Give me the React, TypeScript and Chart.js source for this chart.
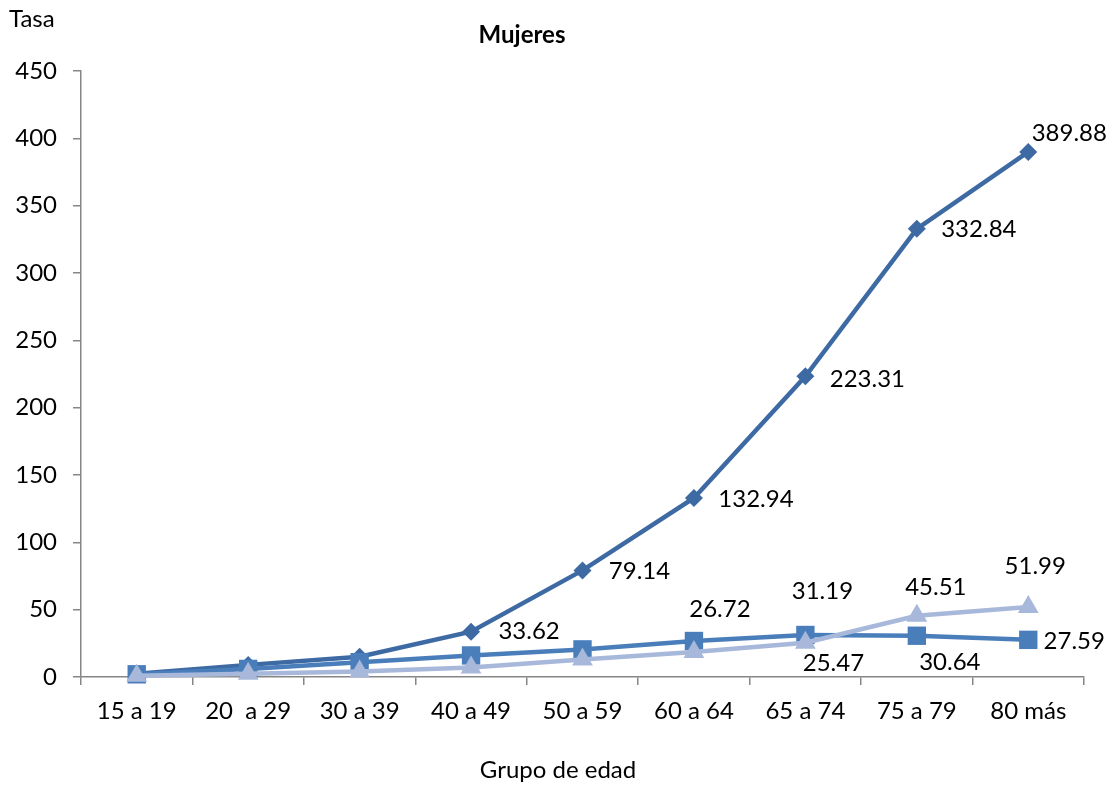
import React, { useEffect, useRef } from "react";
import { Chart, registerables } from "chart.js";

Chart.register(...registerables);

// Age groups along the x axis
const grupos = ["15 a 19", "20  a 29", "30 a 39", "40 a 49", "50 a 59", "60 a 64", "65 a 74", "75 a 79", "80 más"];

// Rates per age group
const serieRombo = [2.5, 9, 15, 33.62, 79.14, 132.94, 223.31, 332.84, 389.88];
const serieCuadro = [2, 6, 11, 16, 20.5, 26.72, 31.19, 30.64, 27.59];
const serieTriangulo = [1, 2.5, 4, 7, 13, 18.5, 25.47, 45.51, 51.99];

// Y axis ticks
const yTicks = [0, 50, 100, 150, 200, 250, 300, 350, 400, 450];

const colorRombo = "#3E6AA4";
const colorCuadro = "#4A7EBB";
const colorTriangulo = "#A7B8DA";

const FONT = "Lato, 'Open Sans', sans-serif";
const TEXT = "#000000";
const AXIS = "#868686";

// Which points carry a value label, and where the label sits relative to the point
const etiquetas = [
  { ds: 0, i: 3, dx: 58, dy: 0 },
  { ds: 0, i: 4, dx: 57, dy: 1 },
  { ds: 0, i: 5, dx: 62, dy: 1 },
  { ds: 0, i: 6, dx: 62, dy: 3 },
  { ds: 0, i: 7, dx: 62, dy: 0 },
  { ds: 0, i: 8, dx: 41, dy: -19 },
  { ds: 1, i: 5, dx: 26, dy: -32 },
  { ds: 1, i: 6, dx: 17, dy: -44 },
  { ds: 1, i: 7, dx: 33, dy: 27 },
  { ds: 1, i: 8, dx: 46, dy: 1 },
  { ds: 2, i: 6, dx: 28, dy: 21 },
  { ds: 2, i: 7, dx: 19, dy: -28 },
  { ds: 2, i: 8, dx: 7, dy: -41 },
];

const textos = {
  id: "textos",
  afterDatasetsDraw(chart: any) {
    const ctx = chart.ctx;
    ctx.save();
    ctx.fillStyle = TEXT;
    ctx.textAlign = "center";
    ctx.textBaseline = "middle";
    ctx.font = `24px ${FONT}`;
    for (const e of etiquetas) {
      const pt = chart.getDatasetMeta(e.ds).data[e.i];
      const v = chart.data.datasets[e.ds].data[e.i] as number;
      ctx.fillText(v.toFixed(2), pt.x + e.dx, pt.y + e.dy);
    }
    // Axis titles and chart title
    ctx.textAlign = "left";
    ctx.font = `24px ${FONT}`;
    ctx.fillText("Tasa", 9, 19);
    ctx.textAlign = "center";
    ctx.font = `bold 24px ${FONT}`;
    ctx.fillText("Mujeres", 522, 35);
    ctx.font = `24px ${FONT}`;
    ctx.fillText("Grupo de edad", 558, 770);
    ctx.restore();
  },
};

export default function App() {
  const ref = useRef<HTMLCanvasElement>(null);

  useEffect(() => {
    if (!ref.current) return;
    const chart = new Chart(ref.current, {
      type: "line",
      data: {
        labels: grupos,
        datasets: [
          {
            label: "Serie 1",
            data: serieRombo,
            borderColor: colorRombo,
            backgroundColor: colorRombo,
            borderWidth: 4.5,
            pointStyle: "rectRot",
            pointRadius: 9,
            pointBorderWidth: 0,
            tension: 0,
            order: 3,
            clip: false as any,
          },
          {
            label: "Serie 2",
            data: serieCuadro,
            borderColor: colorCuadro,
            backgroundColor: colorCuadro,
            borderWidth: 4.5,
            pointStyle: "rect",
            pointRadius: 13,
            pointBorderWidth: 0,
            tension: 0,
            order: 2,
            clip: false as any,
          },
          {
            label: "Serie 3",
            data: serieTriangulo,
            borderColor: colorTriangulo,
            backgroundColor: colorTriangulo,
            borderWidth: 4.5,
            pointStyle: "triangle",
            pointRadius: 12,
            pointBorderWidth: 0,
            tension: 0,
            order: 1,
            clip: false as any,
          },
        ],
      },
      options: {
        responsive: false,
        animation: false,
        devicePixelRatio: 1,
        layout: { padding: { top: 71, right: 29, left: 0, bottom: 0 } },
        plugins: {
          legend: { display: false },
          tooltip: { enabled: false },
        },
        scales: {
          x: {
            type: "category",
            offset: true,
            grid: {
              offset: true,
              drawOnChartArea: false,
              drawTicks: true,
              tickLength: 8,
              color: AXIS,
              lineWidth: 1.5,
            },
            border: { color: AXIS, width: 1.5 },
            ticks: {
              color: TEXT,
              font: { family: FONT, size: 24 },
              padding: 12,
              maxRotation: 0,
              autoSkip: false,
            },
            afterFit(scale: any) {
              scale.height = 110;
            },
          },
          y: {
            min: 0,
            max: 450,
            afterBuildTicks(scale: any) {
              scale.ticks = yTicks.map((v) => ({ value: v }));
            },
            grid: {
              drawOnChartArea: false,
              drawTicks: true,
              tickLength: 8,
              color: AXIS,
              lineWidth: 1.5,
            },
            border: { color: AXIS, width: 1.5 },
            ticks: {
              color: TEXT,
              font: { family: FONT, size: 24 },
              padding: 16,
            },
            afterFit(scale: any) {
              scale.width = 81;
            },
          },
        },
      },
      plugins: [textos],
    });
    return () => chart.destroy();
  }, []);

  return (
    <div style={{ position: "fixed", left: 0, top: 0, width: 1113, height: 787, background: "#fff" }}>
      <canvas ref={ref} width={1113} height={787} style={{ display: "block" }} />
    </div>
  );
}
